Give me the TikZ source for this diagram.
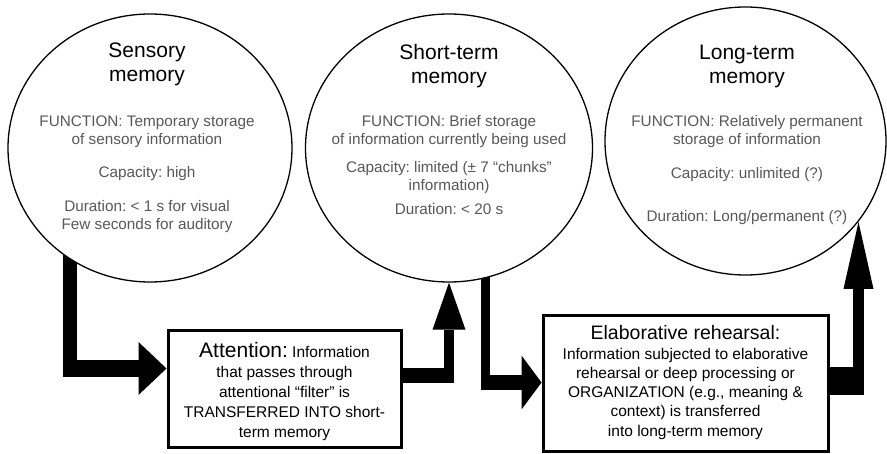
\documentclass[tikz,border=0pt]{standalone}
\usepackage{fontspec}
\setmainfont{Liberation Sans}
\usetikzlibrary{arrows.meta,shapes.geometric,backgrounds}
\definecolor{bodygray}{RGB}{88,88,88}
\frenchspacing
\begin{document}
\begin{tikzpicture}[x=1pt,y=-1pt,
  memcircle/.style={ellipse, draw=black, line width=1.3pt, fill=white, inner sep=0pt},
  infobox/.style={rectangle, draw=black, line width=3pt, fill=white, inner sep=0pt},
  ctitle/.style={anchor=base, inner sep=0pt, font=\fontsize{21}{24}\selectfont, text=black},
  cbody/.style={anchor=base, inner sep=0pt, font=\fontsize{15.3}{18}\selectfont, text=bodygray},
  bbody/.style={anchor=base, inner sep=0pt, font=\fontsize{15.5}{18}\selectfont, text=black},
  shaft/.style={draw=black, line cap=butt, line join=miter}
]
\useasboundingbox (0,0) rectangle (887,454);

% memory stores
\node[memcircle, minimum width=284pt, minimum height=268pt] (c1) at (150,148) {};
\node[memcircle, minimum width=287pt, minimum height=268pt] (c2) at (449,148) {};
\node[memcircle, minimum width=281pt, minimum height=268pt] (c3) at (745.5,141) {};

% process boxes
\node[infobox, minimum width=233pt, minimum height=117pt] (box1) at (284.5,389.5) {};
\node[infobox, minimum width=285pt, minimum height=136pt] (box2) at (685.5,384) {};

% sensory memory text
\node[ctitle] (t1a) at (147,58) {Sensory};
\node[ctitle] (t1b) at (147,82) {memory};
\node[cbody] (s1a) at (147,127) {FUNCTION: Temporary storage};
\node[cbody] (s1b) at (147,144.5) {of sensory information};
\node[cbody] (s1c) at (147,178) {Capacity: high};
\node[cbody] (s1d) at (147,212) {Duration: < 1 s for visual};
\node[cbody] (s1e) at (147,229.5) {Few seconds for auditory};

% short-term memory text
\node[ctitle] (t2a) at (449,60) {Short-term};
\node[ctitle] (t2b) at (449,84) {memory};
\node[cbody] (s2a) at (449,127) {FUNCTION: Brief storage};
\node[cbody] (s2b) at (449,145) {of information currently being used};
\node[cbody] (s2c) at (449,173) {Capacity: limited (± 7 “chunks”};
\node[cbody] (s2d) at (449,191) {information)};
\node[cbody] (s2e) at (449,215) {Duration: < 20 s};

% long-term memory text
\node[ctitle] (t3a) at (747,60) {Long-term};
\node[ctitle] (t3b) at (747,84) {memory};
\node[cbody] (s3a) at (747,127) {FUNCTION: Relatively permanent};
\node[cbody] (s3b) at (747,145) {storage of information};
\node[cbody] (s3c) at (747,179) {Capacity: unlimited (?)};
\node[cbody] (s3d) at (747,222) {Duration: Long/permanent (?)};

% attention box text
\node[bbody] (b1a) at (284.5,358) {{\fontsize{21}{24}\selectfont Attention:} Information};
\node[bbody] (b1b) at (284.5,378) {that passes through};
\node[bbody] (b1c) at (284.5,398) {attentional “filter” is};
\node[bbody] (b1d) at (284.5,418) {TRANSFERRED INTO short-};
\node[bbody] (b1e) at (284.5,438) {term memory};

% elaborative rehearsal box text
\node[bbody, font=\fontsize{19.5}{22}\selectfont] (b2a) at (685.5,340) {Elaborative rehearsal:};
\node[bbody] (b2b) at (685.5,360) {Information subjected to elaborative};
\node[bbody] (b2c) at (685.5,379) {rehearsal or deep processing or};
\node[bbody] (b2d) at (685.5,398) {ORGANIZATION (e.g., meaning \&};
\node[bbody] (b2e) at (685.5,417) {context) is transferred};
\node[bbody] (b2f) at (685.5,436) {into long-term memory};

% helper coordinates
\coordinate (a1top) at (70,240);
\coordinate (a1corner) at (70,377);
\coordinate (a1start) at (63,368.5);
\coordinate (a1row) at (0,368.5);
\coordinate (a2row) at (0,375.5);
\coordinate (a2corner) at (454,375.5);
\coordinate (a2start) at (449,383);
\coordinate (a3top) at (485.5,265);
\coordinate (a3corner) at (485.5,390);
\coordinate (a3start) at (481,382.5);
\coordinate (a3row) at (0,382.5);
\coordinate (a4row) at (0,381);
\coordinate (a4corner) at (864,381);
\coordinate (a4start) at (858.5,395);
\coordinate (a4tip) at (858.5,222);

\begin{scope}[on background layer]
\fill[white] (0,0) rectangle (887,454);
% sensory -> attention
\draw[shaft, line width=14pt] (a1top) -- (a1corner);
\draw[shaft, line width=17pt, -{Triangle[length=28pt,width=53pt,line width=0pt 0 0]}] (a1start) -- (box1.west |- a1row);
% attention -> short-term
\draw[shaft, line width=15pt] (box1.east |- a2row) -- (a2corner);
\draw[shaft, line width=10pt, -{Triangle[length=47pt,width=33pt,line width=0pt 0 0]}] (a2start) -- (c2.south);
% short-term -> elaborative rehearsal
\draw[shaft, line width=9pt] (a3top) -- (a3corner);
\draw[shaft, line width=15pt, -{Triangle[length=20pt,width=54pt,line width=0pt 0 0]}] (a3start) -- (box2.west |- a3row);
% elaborative rehearsal -> long-term
\draw[shaft, line width=28pt] (box2.east |- a4row) -- (a4corner);
\draw[shaft, line width=11pt, -{Triangle[length=67pt,width=30pt,line width=0pt 0 0]}] (a4start) -- (a4tip);
\end{scope}
\end{tikzpicture}
\end{document}
